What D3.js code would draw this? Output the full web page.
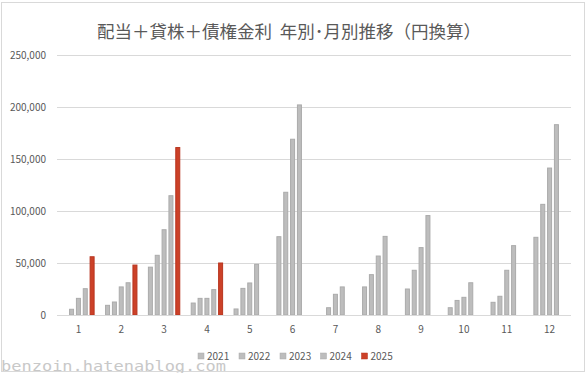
<!DOCTYPE html>
<html>
<head>
<meta charset="utf-8">
<script src="https://cdn.jsdelivr.net/npm/d3@7"></script>
<style>
	html, body { margin: 0; padding: 0; background: #fff; }
	svg { display: block; }
</style>
</head>
<body>
<div id="chart"></div>
<script>
	'use strict';

	var months = ["1", "2", "3", "4", "5", "6", "7", "8", "9", "10", "11", "12"];
	var years = ["2021", "2022", "2023", "2024", "2025"];

	var v2021 = [0, 9300, 46000, 11500, 5800, 75300, 0, 27000, 25000, 7000, 12200, 74700];
	var v2022 = [5500, 12500, 57400, 16000, 25600, 118000, 7000, 38800, 43000, 14000, 18000, 106400];
	var v2023 = [16000, 27000, 82000, 16000, 30800, 169000, 19900, 56700, 64800, 17000, 43000, 141300];
	var v2024 = [25300, 31000, 114700, 24400, 48700, 202000, 27000, 75600, 95600, 31000, 66700, 183000];
	var v2025 = [56000, 48000, 161000, 50000, 0, 0, 0, 0, 0, 0, 0, 0];

	var yTicks = [0, 50000, 100000, 150000, 200000, 250000];

	var seriesValues = [v2021, v2022, v2023, v2024, v2025];
	var seriesColors = ["#bdbdbd", "#bdbdbd", "#bdbdbd", "#bdbdbd", "#cc4128"];
	var seriesStrokes = ["#ababab", "#ababab", "#ababab", "#ababab", "#b8351f"];

	var width = 586, height = 373;
	var jpFont = "'Noto Sans CJK JP', 'Noto Sans', sans-serif";

	var svg = d3.select("#chart").append("svg")
		.attr("width", width)
		.attr("height", height)
		.attr("font-family", jpFont);

	// outer frame
	svg.append("rect")
		.attr("x", 1.5).attr("y", 2.5)
		.attr("width", 583).attr("height", 369)
		.attr("fill", "#fff")
		.attr("stroke", "#d9d9d9");

	svg.append("text")
		.attr("x", 289)
		.attr("y", 37.5)
		.attr("text-anchor", "middle")
		.attr("font-size", "17.5px")
		.attr("fill", "#595959")
		.text("配当＋貸株＋債権金利\u00a0\u00a0年別･月別推移（円換算）");

	var plotLeft = 57, plotRight = 571;

	var x0 = d3.scaleBand()
		.domain(months)
		.range([plotLeft, plotRight])
		.padding(0);

	var bw = x0.bandwidth();
	var x1 = d3.scaleBand()
		.domain(years)
		.range([4.3, bw - 4.3])
		.paddingInner(0.27)
		.paddingOuter(0.135);

	var y = d3.scaleLinear()
		.domain([0, 250000])
		.range([315, 55]);

	// gridlines
	svg.append("g").selectAll("line")
		.data(yTicks.slice(1))
		.enter().append("line")
		.attr("x1", plotLeft).attr("x2", plotRight)
		.attr("y1", function(d) { return Math.round(y(d)) + 0.5; })
		.attr("y2", function(d) { return Math.round(y(d)) + 0.5; })
		.attr("stroke", "#d9d9d9")
		.attr("stroke-width", 1);

	// y axis labels
	var yAxis = d3.axisLeft(y)
		.tickValues(yTicks)
		.tickSize(0)
		.tickPadding(0)
		.tickFormat(d3.format(","));
	var yg = svg.append("g")
		.attr("transform", "translate(46,0)")
		.call(yAxis);
	yg.select(".domain").remove();
	yg.selectAll("text")
		.attr("font-family", jpFont)
		.attr("font-size", "10px")
		.attr("fill", "#595959");

	// bars
	var groups = svg.append("g").selectAll("g")
		.data(months)
		.enter().append("g")
		.attr("transform", function(d) { return "translate(" + x0(d) + ",0)"; });

	groups.selectAll("rect")
		.data(function(m, i) {
			return years.map(function(yr, s) {
				return { year: yr, s: s, value: seriesValues[s][i] };
			}).filter(function(d) { return d.value > 0; });
		})
		.enter().append("rect")
		.attr("x", function(d) { return x1(d.year) + 0.5; })
		.attr("y", function(d) { return y(d.value); })
		.attr("width", x1.bandwidth() - 1)
		.attr("height", function(d) { return y(0) - y(d.value); })
		.attr("fill", function(d) { return seriesColors[d.s]; })
		.attr("stroke", function(d) { return seriesStrokes[d.s]; })
		.attr("stroke-width", 1);

	// x axis line
	svg.append("line")
		.attr("x1", plotLeft).attr("x2", plotRight)
		.attr("y1", 315.5).attr("y2", 315.5)
		.attr("stroke", "#d9d9d9");

	// x axis labels
	var xAxis = d3.axisBottom(x0).tickSize(0).tickPadding(0);
	var xg = svg.append("g")
		.attr("transform", "translate(0,326)")
		.call(xAxis);
	xg.select(".domain").remove();
	xg.selectAll("text")
		.attr("font-family", jpFont)
		.attr("font-size", "10px")
		.attr("fill", "#595959");

	// legend
	var legendX = [198, 239, 280, 320.5, 361.5];
	var legend = svg.append("g").selectAll("g")
		.data(years)
		.enter().append("g")
		.attr("transform", function(d, i) { return "translate(" + legendX[i] + ",353)"; });
	legend.append("rect")
		.attr("width", 6).attr("height", 6)
		.attr("fill", function(d, i) { return seriesColors[i]; })
		.attr("stroke", function(d, i) { return seriesStrokes[i]; })
		.attr("stroke-width", 0.5);
	legend.append("text")
		.attr("x", 9)
		.attr("y", 6.5)
		.attr("font-size", "10px")
		.attr("fill", "#595959")
		.text(function(d) { return d; });

	// watermark
	svg.append("text")
		.attr("x", 1)
		.attr("y", 371)
		.attr("font-family", "'DejaVu Sans Mono', 'Liberation Mono', monospace")
		.attr("font-size", "13.5px")
		.attr("textLength", 225)
		.attr("lengthAdjust", "spacingAndGlyphs")
		.attr("fill", "#c8c8c8")
		.text("benzoin.hatenablog.com");
</script>
</body>
</html>
